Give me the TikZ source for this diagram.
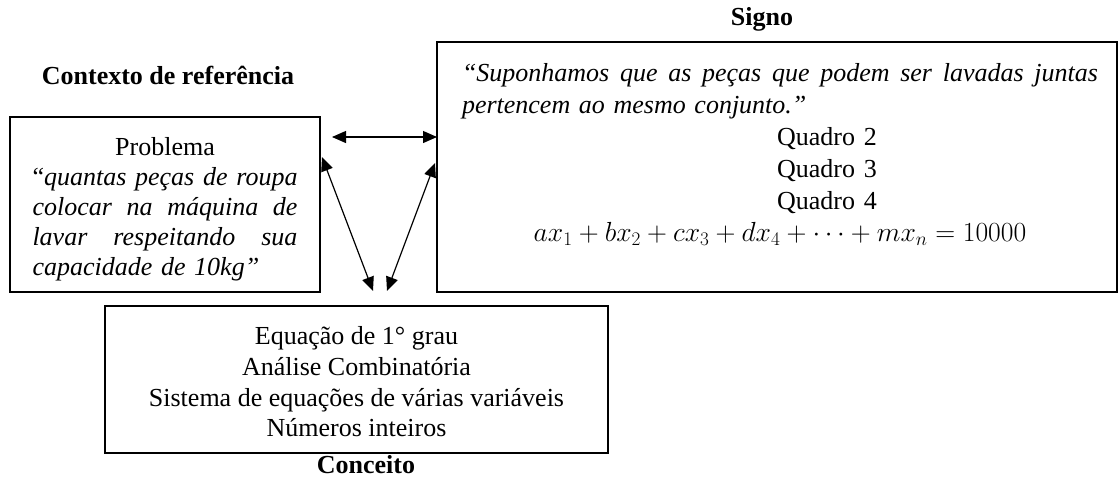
\documentclass[tikz,border=0pt]{standalone}
\usepackage{fontspec}
\usepackage{graphicx}
\setmainfont{Liberation Serif}
\usetikzlibrary{arrows.meta}
\newcommand{\jline}[1]{{\spaceskip=0pt\xspaceskip=0pt\makebox[\linewidth][s]{#1}}}
\tikzset{
  frame/.style={draw, line width=2pt, inner sep=0pt, outer sep=0pt},
  txt/.style={font=\fontsize{26}{30}\selectfont, inner sep=0pt},
  title/.style={font=\fontsize{26}{30}\selectfont\bfseries, inner sep=0pt},
  link/.style={line width=1.2pt, {Triangle[length=14pt,width=12pt]}-{Triangle[length=14pt,width=12pt]}}
}
\begin{document}
\begin{tikzpicture}[x=1pt,y=-1pt]
\useasboundingbox (0,0) rectangle (1120,480);
% boxes
\node[frame, minimum width=310, minimum height=175] (ctx) at (165,204.5) {};
\node[frame, minimum width=680, minimum height=250] (signo) at (777,167) {};
\node[frame, minimum width=503, minimum height=147] (conc) at (356.5,379.5) {};
% titles
\node[title] (tctx) at (168,75) {Contexto de referência};
\node[title] (tsig) at (762,19) {Signo};
\node[title] (tcon) at (366,465) {Conceito};
% left box text
\node[txt, text width=265, align=left, anchor=north] (ctxt) at (165,137.5) {%
\makebox[\linewidth][c]{Problema}\\
\jline{“\textit{quantas peças de roupa}}\\
\jline{\textit{colocar na máquina de}}\\
\jline{\textit{lavar respeitando sua}}\\
\textit{capacidade de 10kg”}};
% right box text
\node[txt, font=\fontsize{26}{32}\selectfont, text width=636, align=left, anchor=north] (stxt) at (780,63) {%
\jline{\itshape “Suponhamos que as peças que podem ser lavadas juntas}\\
{\itshape pertencem ao mesmo conjunto.”}\\
\makebox[\linewidth][c]{\hspace*{94pt}Quadro 2}\\
\makebox[\linewidth][c]{\hspace*{94pt}Quadro 3}\\
\makebox[\linewidth][c]{\hspace*{94pt}Quadro 4}\\
\makebox[\linewidth][c]{\scalebox{1.11}{$ax_1+bx_2+cx_3+dx_4+\cdots+mx_n=10000$}}};
% bottom box text
\node[txt, font=\fontsize{26}{30.7}\selectfont, align=center, anchor=north] (ctxt2) at (356.5,326.5) {%
Equação de 1° grau\\
Análise Combinatória\\
Sistema de equações de várias variáveis\\
Números inteiros};
% arrows
\coordinate (h1) at (332,137);
\coordinate (h2) at (437,137);
\coordinate (a1) at (322,157);
\coordinate (a2) at (373,291);
\coordinate (b1) at (435,163);
\coordinate (b2) at (387,291);
\draw[link] (h1) -- (h2);
\draw[link] (a1) -- (a2);
\draw[link] (b1) -- (b2);
\end{tikzpicture}
\end{document}
